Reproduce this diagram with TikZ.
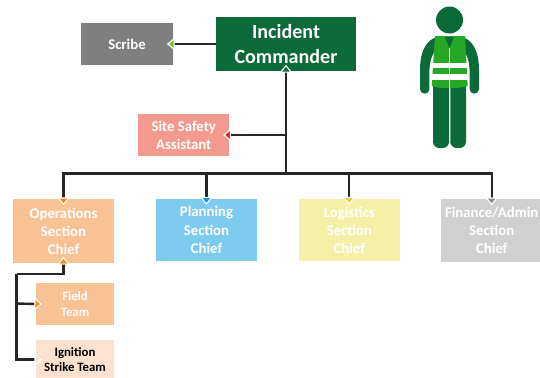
\documentclass[tikz,border=0pt]{standalone}
\usepackage{fontspec}
\setmainfont{Carlito}
\usetikzlibrary{arrows.meta}
\definecolor{cmdgreen}{HTML}{0B6B38}
\definecolor{vestgreen}{HTML}{25A825}
\definecolor{scribegray}{HTML}{7F7F7F}
\definecolor{safetyred}{HTML}{F4998D}
\definecolor{opsorange}{HTML}{F9C294}
\definecolor{planblue}{HTML}{7DCBEF}
\definecolor{logyellow}{HTML}{F4F0A7}
\definecolor{fingray}{HTML}{D0D0D0}
\definecolor{strikepeach}{HTML}{FCE2CF}
\definecolor{tipgreen}{HTML}{7AC143}
\definecolor{tipred}{HTML}{D9251C}
\definecolor{tiporange}{HTML}{F58A23}
\definecolor{tipblue}{HTML}{0A94D6}
\definecolor{tipyellow}{HTML}{E3D231}
\definecolor{tipgray}{HTML}{8C8C8C}
\begin{document}
\begin{tikzpicture}[
    x=0.025cm, y=-0.025cm,
    role/.style={rectangle, inner sep=0pt, align=center, text=white, font=\fontsize{10.5}{12.9}\selectfont\bfseries},
    chief/.style={role, minimum width=2.52cm, minimum height=1.57cm},
    team/.style={role, minimum width=1.95cm, minimum height=1.05cm, font=\fontsize{9.1}{10.8}\selectfont\bfseries},
    link/.style={line width=1.7pt, draw=black!85, shorten >=-0.16cm,
        -{Triangle[length=5.5pt, width=9pt, color=white, fill=#1, line width=0.8pt]}}
]
    \useasboundingbox (0,0) rectangle (540,377);

    % Boxes
    \node[role, fill=cmdgreen, minimum width=3.5cm, minimum height=1.35cm, font=\fontsize{14.3}{17.5}\selectfont\bfseries] (ic) at (286,44) {Incident\\Commander};
    \node[role, fill=scribegray, minimum width=2.3cm, minimum height=1.05cm] (scribe) at (127,44) {Scribe};
    \node[role, fill=safetyred, minimum width=2.28cm, minimum height=1.05cm] (safety) at (183.7,135) {Site Safety\\Assistant};
    \node[chief, fill=opsorange, minimum height=1.6cm] (ops) at (63.5,231) {Operations\\Section\\Chief};
    \node[chief, fill=planblue] (plan) at (206.5,230) {Planning\\Section\\Chief};
    \node[chief, fill=logyellow] (log) at (349.3,230) {Logistics\\Section\\Chief};
    \node[chief, fill=fingray] (fin) at (491.7,230.5) {Finance/Admin\\Section\\Chief};
    \node[team, fill=opsorange] (field) at (75,304) {Field\\Team};
    \node[team, fill=strikepeach, text=black, minimum height=0.975cm] (strike) at (75,359.5) {Ignition\\Strike Team};

    % Joints
    \coordinate (bus) at (286,173.5);
    \coordinate (safetyjoin) at (286,135);
    \coordinate (opsbend) at (16.5,274);
    \coordinate (fieldjoin) at (16.5,303.5);

    % Connectors
    \draw[link=cmdgreen] (bus) -- (ic.south);
    \draw[link=tipgreen] (ic.west) -- (scribe.east);
    \draw[link=tipred] (safetyjoin) -- (safety.east);
    \draw[link=tiporange] (bus) -| (ops.north);
    \draw[link=tipblue] (bus) -| (plan.north);
    \draw[link=tipyellow] (bus) -| (log.north);
    \draw[link=tipgray] (bus) -| (fin.north);
    \draw[link=tiporange] (opsbend) -| (ops.south);
    \draw[link=tiporange] (fieldjoin) -- (field.west);
    \draw[link=strikepeach] (opsbend) |- (strike.west);

    % Person
    \fill[cmdgreen] (449.5,20) circle (13.5);
    \fill[cmdgreen, rounded corners=4.5] (433,80) rectangle (449,148);
    \fill[cmdgreen, rounded corners=4.5] (450.3,80) rectangle (466,148);
    \fill[cmdgreen] (438,37) .. controls (426,39) and (420,52) .. (420,70) -- (420,89)
        arc (180:0:4.7) -- (429.4,72) .. controls (429.4,62) and (432,54) .. (436,50) -- cycle;
    \fill[cmdgreen] (461,37) .. controls (473,39) and (479,52) .. (479,70) -- (479,89)
        arc (0:180:4.7) -- (469.6,72) .. controls (469.6,62) and (467,54) .. (463,50) -- cycle;
    \fill[vestgreen] (435,36) -- (465,36) -- (467.7,86) .. controls (458,89) and (441,89) .. (431.7,86) -- cycle;
    \fill[cmdgreen] (445,37) -- (454,37) -- (449.5,48) -- cycle;
    \fill[white] (431.8,62.7) rectangle (467.2,68.3);
    \fill[white] (431.5,74) rectangle (467.5,80);
    \draw[white, line width=0.5pt] (449.6,48) -- (449.6,148);
\end{tikzpicture}
\end{document}
